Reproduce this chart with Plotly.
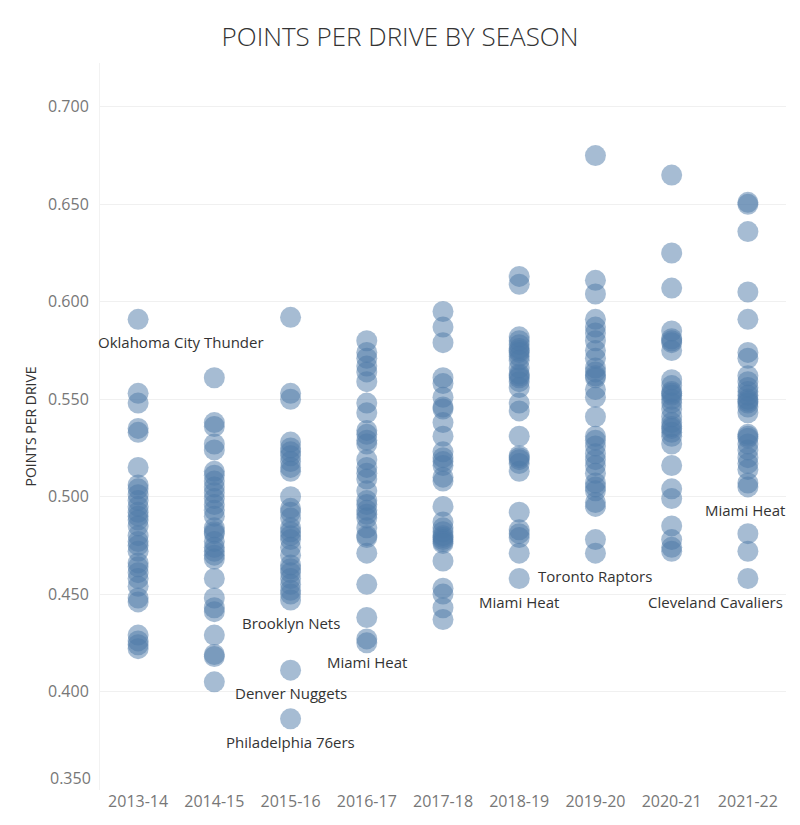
import plotly.graph_objects as go

seasons = ["2013-14", "2014-15", "2015-16", "2016-17", "2017-18",
           "2018-19", "2019-20", "2020-21", "2021-22"]

ppd_2013_14 = [0.591, 0.553, 0.548, 0.535, 0.533, 0.515, 0.506, 0.504, 0.501, 0.498,
               0.495, 0.492, 0.490, 0.488, 0.485, 0.480, 0.477, 0.475, 0.472, 0.466,
               0.464, 0.461, 0.458, 0.454, 0.448, 0.446, 0.429, 0.426, 0.422, 0.424]
ppd_2014_15 = [0.561, 0.538, 0.536, 0.527, 0.524, 0.513, 0.511, 0.508, 0.505, 0.502,
               0.499, 0.496, 0.493, 0.490, 0.484, 0.482, 0.481, 0.477, 0.472, 0.470,
               0.468, 0.458, 0.448, 0.443, 0.441, 0.429, 0.419, 0.418, 0.405, 0.474]
ppd_2015_16 = [0.592, 0.553, 0.550, 0.528, 0.525, 0.523, 0.521, 0.518, 0.515, 0.513,
               0.500, 0.494, 0.492, 0.489, 0.482, 0.480, 0.478, 0.474, 0.470, 0.465,
               0.463, 0.461, 0.458, 0.455, 0.452, 0.450, 0.447, 0.411, 0.386, 0.484]
ppd_2016_17 = [0.580, 0.574, 0.571, 0.567, 0.564, 0.559, 0.548, 0.543, 0.534, 0.532,
               0.529, 0.527, 0.519, 0.515, 0.512, 0.509, 0.503, 0.498, 0.496, 0.493,
               0.491, 0.489, 0.484, 0.480, 0.479, 0.471, 0.455, 0.438, 0.427, 0.425]
ppd_2017_18 = [0.595, 0.587, 0.579, 0.561, 0.558, 0.551, 0.546, 0.545, 0.538, 0.531,
               0.523, 0.520, 0.518, 0.516, 0.510, 0.508, 0.495, 0.487, 0.484, 0.482,
               0.480, 0.479, 0.478, 0.477, 0.476, 0.467, 0.453, 0.450, 0.443, 0.437]
ppd_2018_19 = [0.613, 0.609, 0.582, 0.580, 0.578, 0.576, 0.574, 0.572, 0.570, 0.566,
               0.563, 0.561, 0.559, 0.556, 0.548, 0.544, 0.531, 0.521, 0.519, 0.517,
               0.513, 0.492, 0.483, 0.481, 0.479, 0.471, 0.458, 0.575, 0.562, 0.520]
ppd_2019_20 = [0.675, 0.611, 0.604, 0.591, 0.587, 0.584, 0.580, 0.575, 0.571, 0.566,
               0.564, 0.561, 0.555, 0.551, 0.541, 0.531, 0.529, 0.526, 0.522, 0.519,
               0.516, 0.512, 0.507, 0.505, 0.503, 0.497, 0.495, 0.478, 0.471, 0.562]
ppd_2020_21 = [0.665, 0.625, 0.607, 0.585, 0.581, 0.579, 0.575, 0.560, 0.557, 0.554,
               0.552, 0.550, 0.548, 0.545, 0.541, 0.538, 0.535, 0.533, 0.531, 0.527,
               0.516, 0.504, 0.499, 0.485, 0.478, 0.474, 0.472, 0.553, 0.580, 0.536]
ppd_2021_22 = [0.651, 0.650, 0.636, 0.605, 0.591, 0.574, 0.571, 0.562, 0.559, 0.556,
               0.554, 0.552, 0.550, 0.548, 0.546, 0.543, 0.532, 0.530, 0.527, 0.524,
               0.520, 0.517, 0.514, 0.507, 0.505, 0.481, 0.472, 0.458, 0.549, 0.531]

season_values = [ppd_2013_14, ppd_2014_15, ppd_2015_16, ppd_2016_17, ppd_2017_18,
                 ppd_2018_19, ppd_2019_20, ppd_2020_21, ppd_2021_22]

label_seasons = ["2013-14", "2015-16", "2015-16", "2015-16", "2016-17",
                 "2018-19", "2019-20", "2021-22", "2021-22"]
label_values = [0.591, 0.447, 0.411, 0.386, 0.427, 0.458, 0.471, 0.505, 0.458]
label_teams = ["Oklahoma City Thunder", "Brooklyn Nets", "Denver Nuggets",
               "Philadelphia 76ers", "Miami Heat", "Miami Heat", "Toronto Raptors",
               "Miami Heat", "Cleveland Cavaliers"]
label_xshift = [43, 0, 0, 0, 0, 0, 0, -3, -32]

y_ticks = [0.35, 0.40, 0.45, 0.50, 0.55, 0.60, 0.65, 0.70]
y_bottom_tick = 0.35

xs, ys = [], []
for s, vals in zip(seasons, season_values):
    xs += [s] * len(vals)
    ys += vals

fig = go.Figure()
fig.add_trace(go.Scatter(
    x=xs, y=ys, mode="markers",
    marker=dict(size=21, color="#4e79a7", opacity=0.5, line=dict(width=0)),
    hoverinfo="x+y", showlegend=False,
))

for s, v, t, dx in zip(label_seasons, label_values, label_teams, label_xshift):
    fig.add_annotation(x=s, y=v, text=t, showarrow=False, xshift=dx, yshift=-23,
                       font=dict(family="Open Sans", size=15, color="#333333"))

# bottom tick label sits slightly above the axis end, as in the original
fig.add_annotation(x=0, xref="paper", y=y_bottom_tick, yref="y",
                   text=f"{y_bottom_tick:.3f}", showarrow=False,
                   xanchor="right", xshift=-7, yshift=11,
                   font=dict(family="Open Sans", size=16, color="#777777"))

fig.update_layout(
    width=792, height=817,
    margin=dict(l=92, r=14, t=55, b=35),
    paper_bgcolor="white", plot_bgcolor="white",
    title=dict(text="POINTS PER DRIVE BY SEASON", x=0.495, xref="container",
               y=1 - 29 / 817, yref="container", yanchor="middle",
               font=dict(family="Open Sans", size=26, color="#333333", weight=300)),
    font=dict(family="Open Sans"),
)
fig.update_xaxes(
    type="category", categoryorder="array", categoryarray=seasons,
    range=[-0.5, 8.5], showgrid=False, zeroline=False, automargin=False,
    showline=False, ticks="",
    tickfont=dict(size=16, color="#777777"),
)
fig.update_yaxes(
    range=[0.3495, 0.7225], tickvals=y_ticks, automargin=False,
    ticktext=["" if v == y_bottom_tick else f"{v:.3f}" for v in y_ticks],
    ticklabelstandoff=7,
    showgrid=True, gridcolor="#f0f0f0", gridwidth=1, zeroline=False,
    showline=True, linecolor="#f2f2f2", ticks="",
    tickfont=dict(size=16, color="#777777"),
    title=dict(text="POINTS PER DRIVE", font=dict(size=14, color="#333333"), standoff=8),
)

fig.write_html("out.html")
